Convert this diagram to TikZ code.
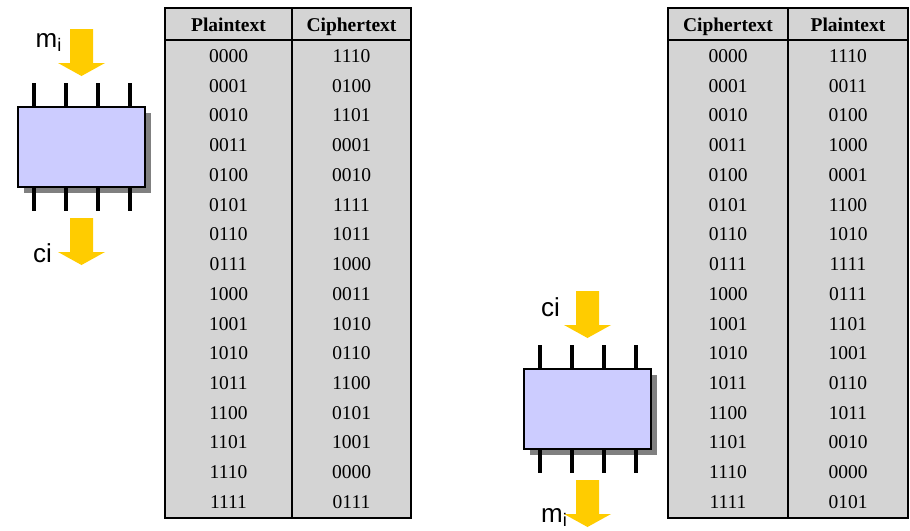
\documentclass[tikz,border=0pt]{standalone}
\usepackage{fontspec}
\setmainfont{Liberation Serif}
\newfontfamily\labelfont{Liberation Sans}
\usetikzlibrary{positioning}

\definecolor{tablegray}{RGB}{212,212,212}
\definecolor{chipblue}{RGB}{204,204,255}
\definecolor{arrowyellow}{RGB}{255,204,0}
\definecolor{shadowgray}{RGB}{128,128,128}

\begin{document}
\begin{tikzpicture}[x=1pt, y=-1pt,
  cell/.style={font=\fontsize{19.5}{20}\selectfont, inner sep=0pt, anchor=base},
  head/.style={font=\fontsize{19.5}{20}\selectfont\bfseries, inner sep=0pt, anchor=base},
  tab/.style={draw=black, line width=2.5pt, fill=tablegray},
  rule/.style={line width=2.5pt},
  lbl/.style={font=\labelfont\fontsize{26}{26}\selectfont, inner sep=0pt},
  yarrow/.pic={
    \fill[arrowyellow] (-11.5,0) -- (11.5,0) -- (11.5,34) -- (23.5,34) -- (0,47)
      -- (-23.5,34) -- (-11.5,34) -- cycle;
  },
  chip/.pic={
    \fill[shadowgray] (-58,-34.5) rectangle (69,45.5);
    \draw[draw=black, line width=2pt, fill=chipblue] (-63.5,-40) rectangle (63.5,40);
    \foreach \x in {-48,-16,16,48} {
      \draw[line width=4pt] (\x,-64) -- (\x,-41);
      \draw[line width=4pt] (\x,41) -- (\x,64);
    }
  }]
  \useasboundingbox (0,0) rectangle (910,530);

  % encryption side
  \pic at (81.5,29) {yarrow};
  \pic at (81.5,147) {chip};
  \pic at (81.5,218) {yarrow};
  \node[lbl, anchor=base east] (mienc) at (62,47) {m\textsubscript{i}};
  \node[lbl, anchor=base west] (cienc) at (33,262) {ci};

  \draw[tab] (165,8) rectangle (411,518);
  \draw[rule] (292,8) -- (292,518);
  \draw[rule] (165,40) -- (411,40);
  \node[head] (encp) at (228.5,31) {Plaintext};
  \node[head] (encc) at (351.5,31) {Ciphertext};
  \foreach \p/\c [count=\i from 0] in {0000/1110, 0001/0100, 0010/1101, 0011/0001,
      0100/0010, 0101/1111, 0110/1011, 0111/1000, 1000/0011, 1001/1010,
      1010/0110, 1011/1100, 1100/0101, 1101/1001, 1110/0000, 1111/0111} {
    \node[cell] (encp\i) at (228.5,62.5+29.73*\i) {\p};
    \node[cell] (encc\i) at (351.5,62.5+29.73*\i) {\c};
  }

  % decryption side
  \pic at (587.5,291) {yarrow};
  \pic at (587.5,409) {chip};
  \pic at (587.5,480) {yarrow};
  \node[lbl, anchor=base west] (cidec) at (541,316) {ci};
  \node[lbl, anchor=base west] (midec) at (541,522) {m\textsubscript{i}};

  \draw[tab] (668,8) rectangle (908,518);
  \draw[rule] (788,8) -- (788,518);
  \draw[rule] (668,40) -- (908,40);
  \node[head] (decc) at (728,31) {Ciphertext};
  \node[head] (decp) at (848,31) {Plaintext};
  \foreach \c/\p [count=\i from 0] in {0000/1110, 0001/0011, 0010/0100, 0011/1000,
      0100/0001, 0101/1100, 0110/1010, 0111/1111, 1000/0111, 1001/1101,
      1010/1001, 1011/0110, 1100/1011, 1101/0010, 1110/0000, 1111/0101} {
    \node[cell] (decc\i) at (728,62.5+29.73*\i) {\c};
    \node[cell] (decp\i) at (848,62.5+29.73*\i) {\p};
  }
\end{tikzpicture}
\end{document}
